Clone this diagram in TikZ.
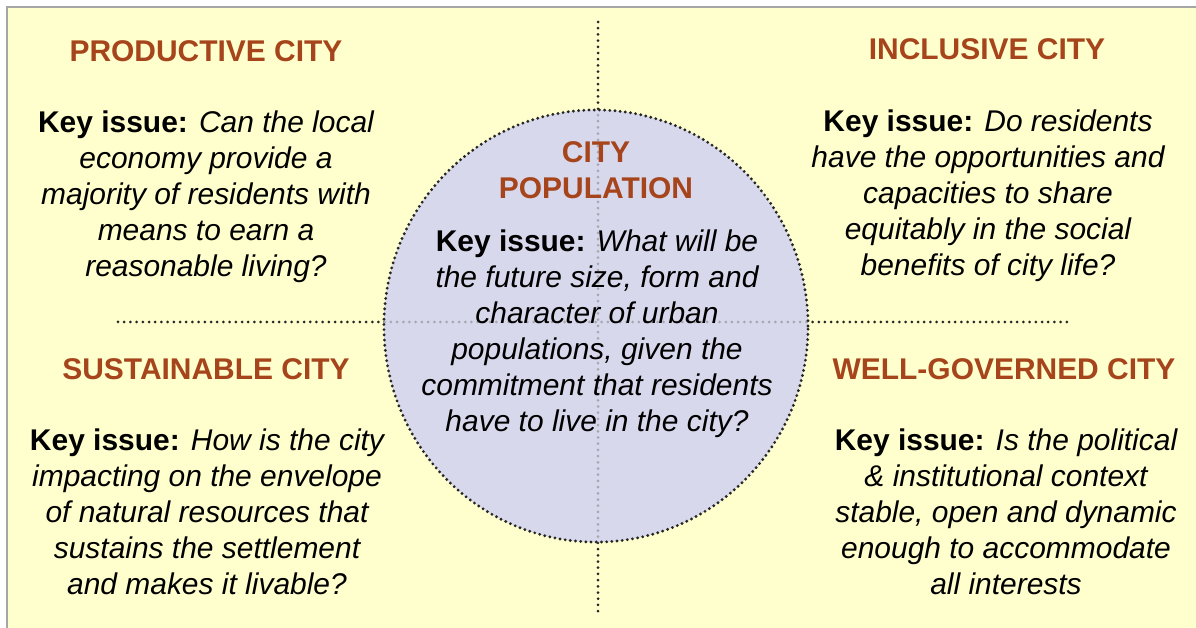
\documentclass[tikz,border=0pt]{standalone}
\usepackage{fontspec}
\setmainfont{Liberation Sans}
\definecolor{cityred}{RGB}{166,68,28}
\definecolor{pale}{RGB}{255,255,206}
\definecolor{lilac}{RGB}{216,216,236}
\newcommand\keyissue{\textbf{\upshape Key issue:}}

\begin{document}
\begin{tikzpicture}[x=0.025cm,y=-0.025cm,
    dotline/.style={line width=0.075cm,line cap=round,dash pattern=on 0pt off 0.155cm},
    title/.style={font=\bfseries\fontsize{21.3}{25.6}\selectfont,text=cityred,inner sep=0pt,align=center},
    issue/.style={font=\itshape\fontsize{21.3}{25.6}\selectfont,inner sep=0pt,align=center}]
    \useasboundingbox (0,0) rectangle (1196,628);
    \fill[white] (0,0) rectangle (1196,628);
    \fill[pale] (7,7) rectangle (1196,628);
    \draw[gray!70,line width=0.05cm] (7,628) -- (7,7) -- (1196,7);

    % axes
    \coordinate (top) at (598,22);
    \coordinate (bottom) at (598,615);
    \coordinate (left) at (118,322);
    \coordinate (right) at (1068,322);
    \draw[dotline,black!85] (top) -- (bottom);
    \draw[dotline,black!85] (left) -- (right);

    % centre circle
    \fill[lilac] (596,326) ellipse [x radius=5.3cm,y radius=5.4cm];
    \begin{scope}
        \clip (596,326) ellipse [x radius=5.3cm,y radius=5.4cm];
        \draw[dotline,gray!55!lilac] (top) -- (bottom);
        \draw[dotline,gray!55!lilac] (left) -- (right);
    \end{scope}
    \draw[line width=0.08cm,line cap=round,dash pattern=on 0pt off 0.13cm,black!85]
        (596,326) ellipse [x radius=5.3cm,y radius=5.4cm];

    \begin{scope}[every node/.style={title}]
        \node (prod) at (206,51) {PRODUCTIVE CITY};
        \node (incl) at (987,49) {INCLUSIVE CITY};
        \node (sust) at (206,369) {SUSTAINABLE CITY};
        \node (gov) at (1004,369) {WELL-GOVERNED CITY};
        \node (pop) at (596,170) {CITY\\POPULATION};
    \end{scope}

    \begin{scope}[every node/.style={issue}]
        \node (prodq) at (206,197) {\keyissue{} Can the local\\economy provide a\\majority of residents with\\means to earn a\\reasonable living?};
        \node (inclq) at (988,196) {\keyissue{} Do residents\\have the opportunities and\\capacities to share\\equitably in the social\\benefits of city life?};
        \node (sustq) at (207,512) {\keyissue{} How is the city\\impacting on the envelope\\of natural resources that\\sustains the settlement\\and makes it livable?};
        \node (govq) at (1006,512) {\keyissue{} Is the political\\\& institutional context\\stable, open and dynamic\\enough to accommodate\\all interests};
        \node (popq) at (597,334) {\keyissue{} What will be\\the future size, form and\\character of urban\\populations, given the\\commitment that residents\\have to live in the city?};
    \end{scope}
\end{tikzpicture}
\end{document}
